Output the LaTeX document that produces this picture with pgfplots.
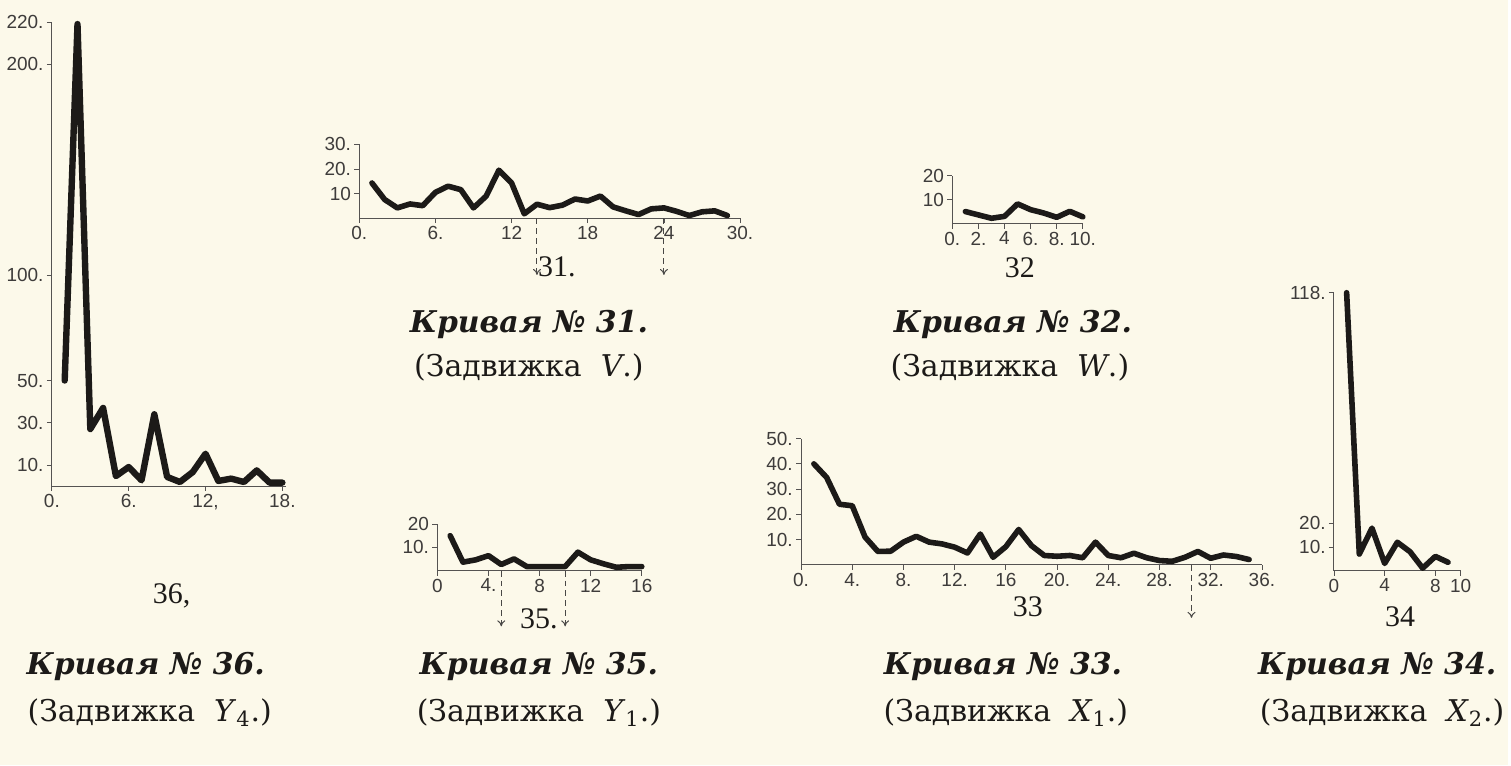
\documentclass[border=0pt]{standalone}
\usepackage{fontspec}
\usepackage{pgfplots}
\pgfplotsset{compat=1.18}
\usetikzlibrary{arrows.meta}
\setmainfont{DejaVu Serif}
\newfontfamily\tickfont{Liberation Sans}
\newfontfamily\numfont{Liberation Serif}
\definecolor{paper}{HTML}{FCF9EA}
\definecolor{ink}{HTML}{1C1A18}

\pgfplotsset{
  chart/.style={
    scale only axis, anchor=south west,
    axis lines=left, axis line style={-, line width=0.5pt, ink!75},
    xmin=0, ymin=0, clip=false,
    tick style={line width=0.4pt, ink!75},
    major tick length=2.5pt, tick align=outside,
    ticklabel style={font=\tickfont\fontsize{9.5}{10}\selectfont, text=ink!85, inner sep=1.5pt},
  },
  curve/.style={ink, line width=2.8pt, line join=round, line cap=round, mark=none},
}
\tikzset{arr/.style={densely dashed, line width=0.5pt, ink!80, -{To[length=3pt,width=4pt]}}}

\newcommand{\curvecap}[4]{%
  \node[font=\fontsize{15}{18}\selectfont\itshape\bfseries, text=ink] at (#1) {Кривая №~#3.};
  \node[font=\fontsize{15}{18}\selectfont, text=ink] at (#2) {(Задвижка\ \ #4.)};}

\begin{document}
\begin{tikzpicture}
\fill[paper] (0,0) rectangle (755.5pt,383.5pt);

% 36
\begin{axis}[chart, at={(26pt,140pt)}, width=117.4pt, height=232.5pt,
  xmax=18.3, ymax=220,
  xtick={0,6,12,18}, xticklabels={0.,6.,{12,},18.},
  ytick={10,30,50,100,200,220}, yticklabels={10.,30.,50.,100.,200.,220.}]
\addplot[curve, line width=3.2pt] coordinates {
(1,50) (2,219) (3,27) (4,37) (5,4.7) (6,9) (7,2.7) (8,34) (9,4.3)
(10,1.9) (11,6.6) (12,15.3) (13,2.4) (14,3.5) (15,1.9) (16,7.4) (17,1.6) (18,1.6)};
\end{axis}

% 31
\begin{axis}[chart, at={(180pt,274.15pt)}, width=190.8pt, height=37.05pt,
  xmax=30, ymax=30,
  xtick={0,6,12,18,24,30}, xticklabels={0.,6.,12,18,24,30.},
  ytick={10,20,30}, yticklabels={10,20.,30.}]
\addplot[curve] coordinates {
(1,14.3) (2,7.6) (3,4.2) (4,5.8) (5,5.1) (6,10.5) (7,13) (8,11.6) (9,4.2) (10,9)
(11,19.5) (12,14.3) (13,1.8) (14,5.7) (15,4.3) (16,5.3) (17,7.8) (18,7) (19,9) (20,4.6)
(21,3) (22,1.5) (23,3.8) (24,4.2) (25,2.8) (26,1.1) (27,2.6) (28,3) (29,1.1)};
\draw[arr] (axis cs:14,0) -- (axis cs:14,-23);
\draw[arr] (axis cs:24,0) -- (axis cs:24,-23);
\end{axis}

% 32
\begin{axis}[chart, at={(477.15pt,271.5pt)}, width=65.35pt, height=24pt,
  xmax=10, ymax=20,
  xtick={0,2,4,6,8,10}, xticklabels={0.,2.,4,6.,8.,10.},
  ytick={10,20}, yticklabels={10,20}]
\addplot[curve] coordinates {
(1,5) (2,3.6) (3,2.2) (4,3) (5,8.2) (6,5.8) (7,4.4) (8,2.6) (9,5.1) (10,2.8)};
\end{axis}

% 35
\begin{axis}[chart, at={(219.15pt,97.65pt)}, width=102.4pt, height=23.3pt,
  xmax=16, ymax=20,
  xtick={0,4,8,12,16}, xticklabels={0,4.,8,12,16},
  ytick={10,20}, yticklabels={10.,20}]
\addplot[curve] coordinates {
(1,15) (2,3.6) (3,4.6) (4,6.4) (5,2.6) (6,5) (7,1.7) (8,1.7) (9,1.7) (10,1.7)
(11,7.9) (12,4.6) (13,2.9) (14,1.4) (15,1.7) (16,1.7)};
\draw[arr] (axis cs:5,0) -- (axis cs:5,-24);
\draw[arr] (axis cs:10,0) -- (axis cs:10,-24);
\end{axis}

% 33
\begin{axis}[chart, at={(401.35pt,100.5pt)}, width=230.9pt, height=63.25pt,
  xmax=36, ymax=50,
  xtick={0,4,...,36}, xticklabels={0.,4.,8.,12.,16,20.,24.,28.,32.,36.},
  ytick={10,20,30,40,50}, yticklabels={10.,20.,30.,40.,50.}]
\addplot[curve] coordinates {
(1,40) (2,34.6) (3,24) (4,23.4) (5,11) (6,5.3) (7,5.4) (8,9) (9,11.3) (10,9)
(11,8.3) (12,7) (13,4.7) (14,12.2) (15,3) (16,7.2) (17,14) (18,7.6) (19,3.7) (20,3.4)
(21,3.7) (22,2.8) (23,9) (24,3.7) (25,2.8) (26,4.6) (27,2.8) (28,1.7) (29,1.4) (30,3)
(31,5.3) (32,2.6) (33,3.9) (34,3.3) (35,2.1)};
\draw[arr] (axis cs:30.5,0) -- (axis cs:30.5,-21);
\end{axis}

% 34
\begin{axis}[chart, at={(668.35pt,97.65pt)}, width=63.5pt, height=139.2pt,
  xmax=10, ymax=118,
  xtick={0,4,8,10}, xticklabels={0,4,8,10},
  ytick={10,20,118}, yticklabels={10.,20.,118.}]
\addplot[curve] coordinates {
(1,118) (2,7) (3,18) (4,3) (5,12) (6,8) (7,1) (8,6) (9,3.5)};
\end{axis}

% figure numbers
\begin{scope}[every node/.style={font=\numfont\fontsize{15}{16}\selectfont, text=ink}]
\node at (86pt,85pt) {36,};
\node at (279pt,250pt) {31.};
\node at (511pt,249.5pt) {32};
\node at (270pt,73.5pt) {35.};
\node at (515pt,79.5pt) {33};
\node at (701.5pt,74.5pt) {34};
\end{scope}

% captions
\curvecap{73pt,49.5pt}{75pt,26.5pt}{36}{\textit{Y}\textsubscript{4}}
\curvecap{270pt,49.5pt}{270pt,26.5pt}{35}{\textit{Y}\textsubscript{1}}
\curvecap{502.5pt,49.5pt}{504pt,26.5pt}{33}{\textit{X}\textsubscript{1}}
\curvecap{690pt,49.5pt}{692.5pt,26.5pt}{34}{\textit{X}\textsubscript{2}}
\curvecap{265pt,221pt}{265pt,199.5pt}{31}{\textit{V}}
\curvecap{507.5pt,221pt}{506pt,199.5pt}{32}{\textit{W}}
\end{tikzpicture}
\end{document}
